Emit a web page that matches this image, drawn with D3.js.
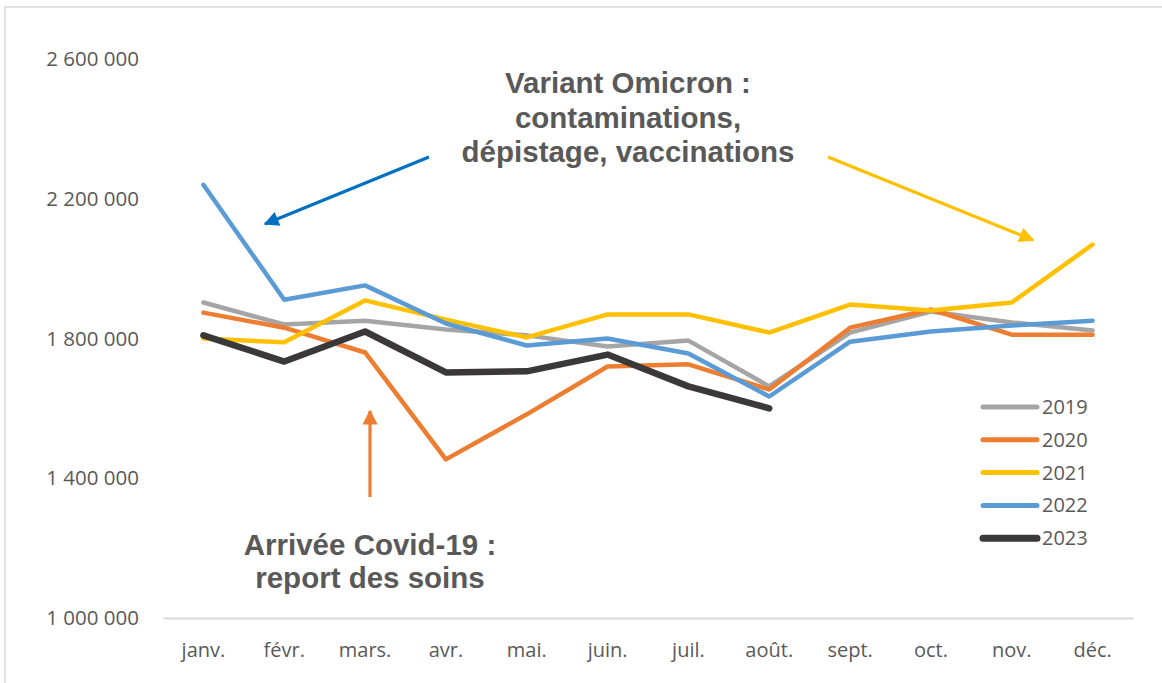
<!DOCTYPE html>
<html lang="fr">
<head>
<meta charset="utf-8">
<script src="https://cdn.jsdelivr.net/npm/d3@7"></script>
<style>
  html, body { margin: 0; padding: 0; background: #fff; }
  svg { display: block; }
</style>
</head>
<body>
<svg id="chart" width="1162" height="683"></svg>
<script>
// Monthly totals per year
const months = ["janv.", "févr.", "mars.", "avr.", "mai.", "juin.", "juil.", "août.", "sept.", "oct.", "nov.", "déc."];
const years = ["2019", "2020", "2021", "2022", "2023"];
const values2019 = [1903000, 1840000, 1851000, 1826000, 1809000, 1777000, 1794000, 1663000, 1817000, 1877000, 1846000, 1823000];
const values2020 = [1874000, 1831000, 1760000, 1454000, 1583000, 1720000, 1726000, 1654000, 1831000, 1883000, 1811000, 1811000];
const values2021 = [1800000, 1789000, 1909000, 1854000, 1803000, 1869000, 1869000, 1817000, 1897000, 1880000, 1903000, 2069000];
const values2022 = [2240000, 1911000, 1952000, 1843000, 1780000, 1800000, 1757000, 1634000, 1791000, 1820000, 1837000, 1851000];
const values2023 = [1809000, 1734000, 1820000, 1703000, 1706000, 1754000, 1663000, 1600000];
const yTicks = [1000000, 1400000, 1800000, 2200000, 2600000];
const colors = ["#A5A5A5", "#ED7D31", "#FFC000", "#5B9BD5", "#3A3838"];

const series = [values2019, values2020, values2021, values2022, values2023].map((vals, i) => ({
  year: years[i], color: colors[i], width: i === 4 ? 6.5 : 4.5, values: vals
}));

const svg = d3.select("#chart");
const textColor = "#595959";

// Chart frame
svg.append("rect")
  .attr("x", 5).attr("y", 7).attr("width", 1180).attr("height", 700)
  .attr("fill", "none").attr("stroke", "#D9D9D9").attr("stroke-width", 1.5);

const x = d3.scaleBand().domain(months).range([163, 1133]);
const y = d3.scaleLinear().domain([1000000, 2600000]).range([618, 59]);

const fmt = d3.formatLocale({ decimal: ",", thousands: " ", grouping: [3], currency: ["", " €"] }).format(",d");

// Y axis labels (no line, no ticks)
const yAxis = svg.append("g").attr("transform", "translate(139,0)")
  .call(d3.axisLeft(y).tickValues(yTicks).tickFormat(fmt).tickSize(0).tickPadding(0));
yAxis.select(".domain").remove();
yAxis.selectAll("text")
  .attr("fill", textColor)
  .style("font-family", "'Open Sans', sans-serif")
  .style("font-size", "20.5px");

// X axis: baseline and month labels
const xAxis = svg.append("g").attr("transform", `translate(0,${y(1000000)})`)
  .call(d3.axisBottom(x).tickSize(0).tickPadding(25));
xAxis.select(".domain").attr("stroke", "#D9D9D9").attr("stroke-width", 2);
xAxis.selectAll("text")
  .attr("fill", textColor)
  .style("font-family", "'Open Sans', sans-serif")
  .style("font-size", "20px");

// Lines
const line = d3.line()
  .x((d, i) => x(months[i]) + x.bandwidth() / 2)
  .y(d => y(d));

svg.append("g").selectAll("path")
  .data(series)
  .join("path")
  .attr("d", d => line(d.values))
  .attr("fill", "none")
  .attr("stroke", d => d.color)
  .attr("stroke-width", d => d.width)
  .attr("stroke-linejoin", "round")
  .attr("stroke-linecap", "round");

// Legend
const legend = svg.append("g");
series.forEach((s, i) => {
  const ly = 407 + i * 32.8;
  legend.append("line")
    .attr("x1", 983).attr("x2", 1037).attr("y1", ly).attr("y2", ly)
    .attr("stroke", s.color).attr("stroke-width", s.width + 0.5).attr("stroke-linecap", "round");
  legend.append("text")
    .attr("x", 1042).attr("y", ly).attr("dy", "0.35em")
    .attr("fill", textColor)
    .style("font-family", "'Open Sans', sans-serif")
    .style("font-size", "20px")
    .text(s.year);
});

// Annotation arrows
const defs = svg.append("defs");
function marker(id, color) {
  defs.append("marker")
    .attr("id", id)
    .attr("viewBox", "0 0 10 10")
    .attr("refX", 9).attr("refY", 5)
    .attr("markerUnits", "userSpaceOnUse")
    .attr("markerWidth", 17).attr("markerHeight", 15)
    .attr("orient", "auto")
    .append("path").attr("d", "M0,0 L10,5 L0,10 Z").attr("fill", color);
}
marker("head-blue", "#0070C0");
marker("head-yellow", "#FFC000");
marker("head-orange", "#ED7D31");

const arrows = [
  { x1: 429, y1: 157, x2: 265, y2: 224, color: "#0070C0", m: "head-blue" },
  { x1: 828, y1: 157, x2: 1033, y2: 240, color: "#FFC000", m: "head-yellow" },
  { x1: 370, y1: 497, x2: 370, y2: 411, color: "#ED7D31", m: "head-orange" }
];
svg.append("g").selectAll("line")
  .data(arrows)
  .join("line")
  .attr("x1", d => d.x1).attr("y1", d => d.y1)
  .attr("x2", d => d.x2).attr("y2", d => d.y2)
  .attr("stroke", d => d.color)
  .attr("stroke-width", 3.2)
  .attr("marker-end", d => `url(#${d.m})`);

// Annotation texts
function note(cx, cy, lines, lh) {
  const t = svg.append("text")
    .attr("text-anchor", "middle")
    .attr("fill", textColor)
    .style("font-family", "'Liberation Sans', Arial, sans-serif")
    .style("font-weight", "bold")
    .style("font-size", "29.5px");
  lines.forEach((l, i) => {
    t.append("tspan").attr("x", cx).attr("y", cy + i * lh).attr("dy", "0.35em").text(l);
  });
}
note(628, 83, ["Variant Omicron :", "contaminations,", "dépistage, vaccinations"], 34.5);
note(370, 545, ["Arrivée Covid-19 :", "report des soins"], 33);
</script>
</body>
</html>
